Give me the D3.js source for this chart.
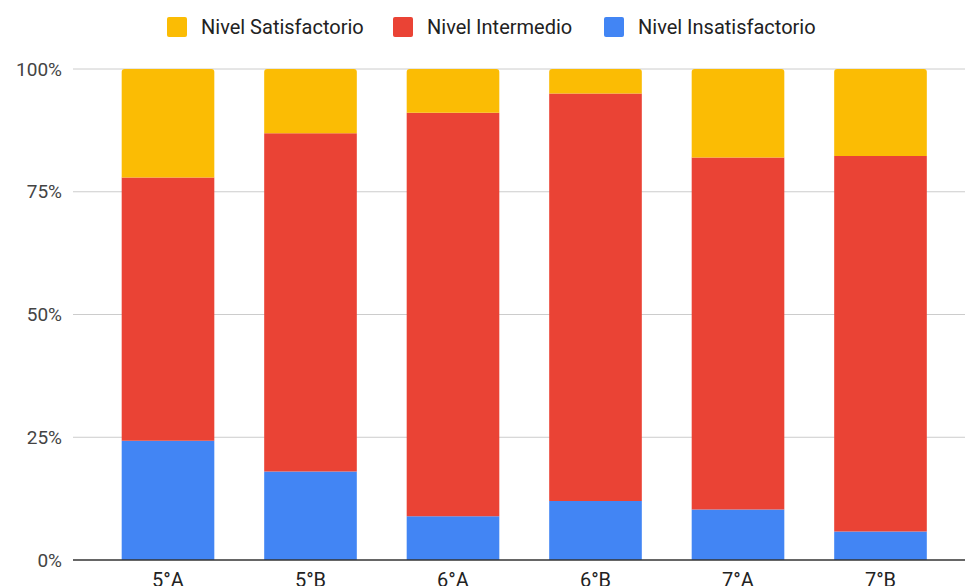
<!DOCTYPE html>
<html>
<head>
<meta charset="utf-8">
<script src="https://cdn.jsdelivr.net/npm/d3@7"></script>
<style>
  body { margin: 0; background: #fff; }
  svg { font-family: Roboto, Arial, sans-serif; }
</style>
</head>
<body>
<script>
// data (percent per grade)
var grades = ["5°A", "5°B", "6°A", "6°B", "7°A", "7°B"];
var insatisfactorio = [24.3, 18.0, 8.9, 12.0, 10.3, 5.8];
var intermedio = [53.6, 68.9, 82.2, 83.0, 71.7, 76.5];
var satisfactorio = [22.1, 13.1, 8.9, 5.0, 18.0, 17.7];
var yTicks = [0, 25, 50, 75, 100];

var seriesNames = ["Nivel Satisfactorio", "Nivel Intermedio", "Nivel Insatisfactorio"];
var colors = { "Nivel Satisfactorio": "#fbbc04", "Nivel Intermedio": "#ea4335", "Nivel Insatisfactorio": "#4285f4" };

var w = 965, h = 586;
var plotLeft = 73, plotRight = 965, plotTop = 69, plotBottom = 560;

var rows = grades.map(function(g, i) {
  return { grade: g, "Nivel Insatisfactorio": insatisfactorio[i], "Nivel Intermedio": intermedio[i], "Nivel Satisfactorio": satisfactorio[i] };
});

var stack = d3.stack().keys(["Nivel Insatisfactorio", "Nivel Intermedio", "Nivel Satisfactorio"])
  .offset(d3.stackOffsetExpand);
var layers = stack(rows);

var x = d3.scaleBand().domain(grades).range([96.75, 951.75]).paddingInner(0.35).paddingOuter(0.175);
var y = d3.scaleLinear().domain([0, 1]).range([plotBottom, plotTop]);

var svg = d3.select("body").append("svg").attr("width", w).attr("height", h);

// gridlines
svg.append("g").selectAll("line")
  .data(yTicks.filter(function(t) { return t > 0; }))
  .enter().append("line")
  .attr("x1", plotLeft).attr("x2", plotRight)
  .attr("y1", function(d) { return y(d / 100); })
  .attr("y2", function(d) { return y(d / 100); })
  .attr("stroke", "#cccccc").attr("stroke-width", 1);

// y labels
svg.append("g").selectAll("text")
  .data(yTicks)
  .enter().append("text")
  .attr("x", 62)
  .attr("y", function(d) { return y(d / 100); })
  .attr("dy", "0.35em")
  .attr("text-anchor", "end")
  .attr("font-size", "19px")
  .attr("fill", "#444")
  .text(function(d) { return d + "%"; });

// bars
var r = 3;
layers.forEach(function(layer) {
  var isTop = layer.key === "Nivel Satisfactorio";
  svg.append("g").selectAll("path")
    .data(layer)
    .enter().append("path")
    .attr("fill", colors[layer.key])
    .attr("d", function(d) {
      var x0 = x(d.data.grade), bw = x.bandwidth();
      var y0 = y(d[1]), y1 = y(d[0]);
      if (!isTop) return "M" + x0 + "," + y0 + "H" + (x0 + bw) + "V" + y1 + "H" + x0 + "Z";
      return "M" + x0 + "," + y1 + "V" + (y0 + r) + "Q" + x0 + "," + y0 + " " + (x0 + r) + "," + y0 +
        "H" + (x0 + bw - r) + "Q" + (x0 + bw) + "," + y0 + " " + (x0 + bw) + "," + (y0 + r) +
        "V" + y1 + "Z";
    });
});

// baseline
svg.append("line")
  .attr("x1", plotLeft).attr("x2", plotRight)
  .attr("y1", plotBottom).attr("y2", plotBottom)
  .attr("stroke", "#333").attr("stroke-width", 1.5);

// x labels
svg.append("g").selectAll("text")
  .data(grades)
  .enter().append("text")
  .attr("x", function(d) { return x(d) + x.bandwidth() / 2; })
  .attr("y", 587)
  .attr("text-anchor", "middle")
  .attr("font-size", "20px")
  .attr("fill", "#222")
  .text(function(d) { return d; });

// legend
var legendX = [167, 393, 604];
var lg = svg.append("g").selectAll("g")
  .data(seriesNames)
  .enter().append("g")
  .attr("transform", function(d, i) { return "translate(" + legendX[i] + ",17)"; });
lg.append("rect")
  .attr("width", 20).attr("height", 20).attr("rx", 2)
  .attr("fill", function(d) { return colors[d]; });
lg.append("text")
  .attr("x", 34).attr("y", 10).attr("dy", "0.35em")
  .attr("font-size", "20px")
  .attr("fill", "#222")
  .text(function(d) { return d; });
</script>
</body>
</html>
